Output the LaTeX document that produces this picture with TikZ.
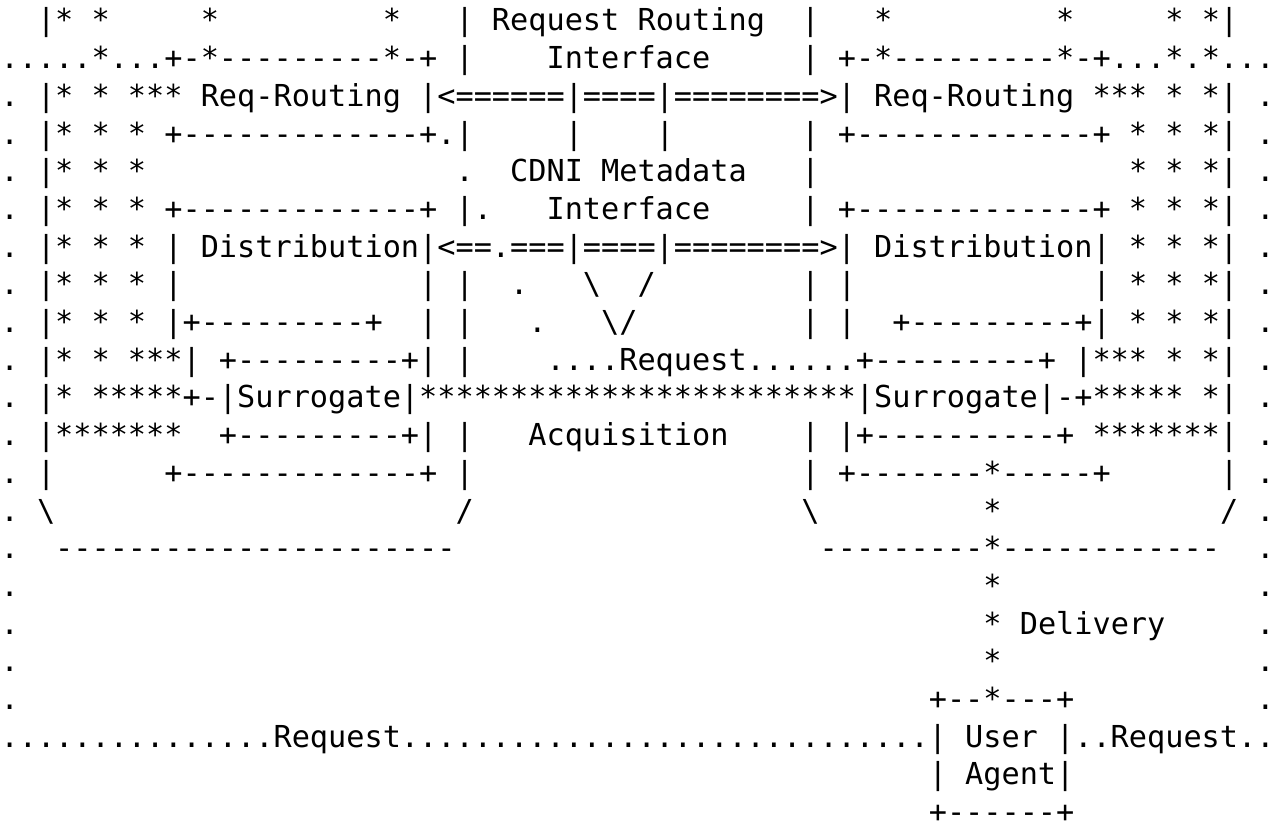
\documentclass[tikz,border=0pt]{standalone}
\usepackage{fontspec}
\setmonofont{DejaVu Sans Mono}
\usetikzlibrary{positioning}

\newlength\cw
\AtBeginDocument{\settowidth{\cw}{\ttfamily 0}}
\newcommand\sk[1]{\hspace*{#1\cw}}

\begin{document}
\begin{tikzpicture}[
    x=6.0205pt,
    y=-12.47pt,
    row/.style={
        anchor=base west,
        inner sep=0pt,
        font=\ttfamily\frenchspacing
    }
]

    % Frame
    \useasboundingbox[fill=white] (0,0.178) rectangle (70,22.12);

    % Rows of the figure
    \node [row] (r1)  at (0,1)  {\sk{2}|* *\sk{5}*\sk{9}*\sk{3}| Request Routing\sk{2}|\sk{3}*\sk{9}*\sk{5}* *|};
    \node [row] (r2)  at (0,2)  {.....*...+-*---------*-+ |\sk{4}Interface\sk{5}| +-*---------*-+...*.*...};
    \node [row] (r3)  at (0,3)  {. |* * *** Req-Routing |<======|====|========>| Req-Routing *** * *| .};
    \node [row] (r4)  at (0,4)  {. |* * * +-------------+.|\sk{5}|\sk{4}|\sk{7}| +-------------+ * * *| .};
    \node [row] (r5)  at (0,5)  {. |* * *\sk{17}.\sk{2}CDNI Metadata\sk{3}|\sk{17}* * *| .};
    \node [row] (r6)  at (0,6)  {. |* * * +-------------+ |.\sk{3}Interface\sk{5}| +-------------+ * * *| .};
    \node [row] (r7)  at (0,7)  {. |* * * | Distribution|<==.===|====|========>| Distribution| * * *| .};
    \node [row] (r8)  at (0,8)  {. |* * * |\sk{13}| |\sk{2}.\sk{3}\textbackslash\sk{2}/\sk{8}| |\sk{13}| * * *| .};
    \node [row] (r9)  at (0,9)  {. |* * * |+---------+\sk{2}| |\sk{3}.\sk{3}\textbackslash/\sk{9}| |\sk{2}+---------+| * * *| .};
    \node [row] (r10) at (0,10) {. |* * ***| +---------+| |\sk{4}....Request......+---------+ |*** * *| .};
    \node [row] (r11) at (0,11) {. |* *****+-|Surrogate|************************|Surrogate|-+***** *| .};
    \node [row] (r12) at (0,12) {. |*******\sk{2}+---------+| |\sk{3}Acquisition\sk{4}| |+----------+ *******| .};
    \node [row] (r13) at (0,13) {. |\sk{6}+-------------+ |\sk{18}| +-------*-----+\sk{6}| .};
    \node [row] (r14) at (0,14) {. \textbackslash\sk{22}/\sk{18}\textbackslash\sk{9}*\sk{12}/ .};
    \node [row] (r15) at (0,15) {.\sk{2}----------------------\sk{20}---------*------------\sk{2}.};
    \node [row] (r16) at (0,16) {.\sk{53}*\sk{14}.};
    \node [row] (r17) at (0,17) {.\sk{53}* Delivery\sk{5}.};
    \node [row] (r18) at (0,18) {.\sk{53}*\sk{14}.};
    \node [row] (r19) at (0,19) {.\sk{50}+--*---+\sk{10}.};
    \node [row] (r20) at (0,20) {...............Request.............................| User |..Request..};
    \node [row] (r21) at (0,21) {\sk{51}| Agent|};
    \node [row] (r22) at (0,22) {\sk{51}+------+};

\end{tikzpicture}
\end{document}
